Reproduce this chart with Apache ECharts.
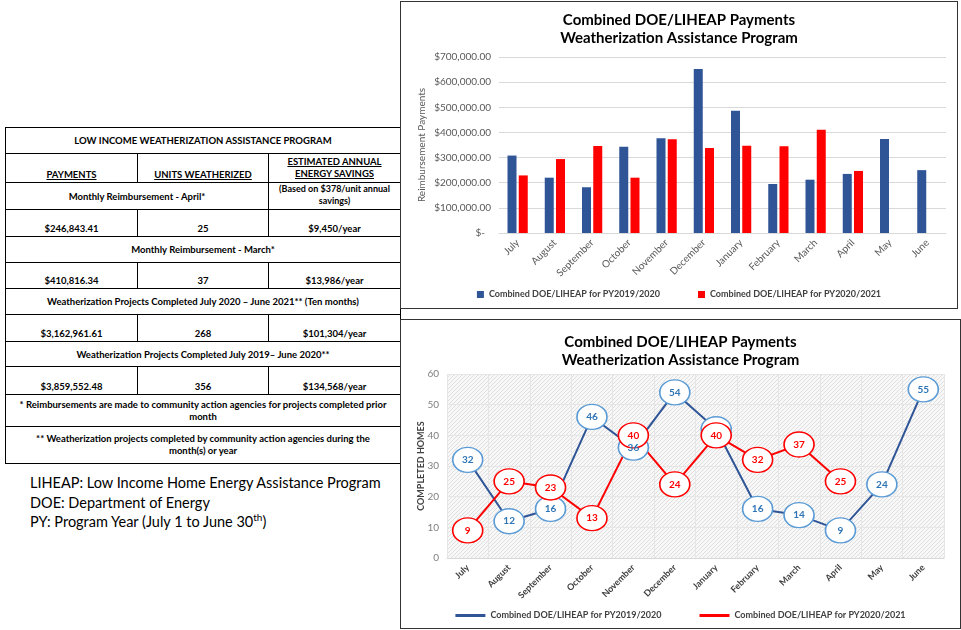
<!DOCTYPE html>
<html><head><meta charset="utf-8">
<script src="https://cdn.jsdelivr.net/npm/echarts@6/dist/echarts.min.js"></script>
<style>
body{margin:0;background:#fff;width:961px;height:630px;position:relative;overflow:hidden;font-family:Lato,'Open Sans',sans-serif;}
#tbl{position:absolute;left:5px;top:127px;border-collapse:collapse;table-layout:fixed;width:395px;font-weight:bold;font-size:9.5px;color:#000;}
#tbl td{border:1px solid #000;text-align:center;padding:0 2px;overflow:hidden;white-space:nowrap;}
#tbl td.b{vertical-align:bottom;padding-bottom:2px;}
#tbl u{text-decoration:underline;}
#notes{position:absolute;left:30px;top:473px;font-size:14.5px;line-height:19.5px;color:#000;}
#c1{position:absolute;left:400px;top:1px;width:558px;height:308px;border:1px solid #333;box-sizing:border-box;}
#c2{position:absolute;left:400px;top:319px;width:561px;height:310px;border:1px solid #333;box-sizing:border-box;}
</style></head><body>
<table id="tbl">
<colgroup><col style="width:132px"><col style="width:131px"><col style="width:132px"></colgroup>
<tr style="height:26px"><td colspan="3">LOW INCOME WEATHERIZATION ASSISTANCE PROGRAM</td></tr>
<tr style="height:29px"><td class="b"><u>PAYMENTS</u></td><td class="b"><u>UNITS WEATHERIZED</u></td><td class="b" style="line-height:12px"><u>ESTIMATED ANNUAL</u><br><u>ENERGY SAVINGS</u></td></tr>
<tr style="height:27px"><td colspan="2">Monthly Reimbursement - April*</td><td style="font-size:9px;line-height:12px;vertical-align:top">(Based on $378/unit annual<br>savings)</td></tr>
<tr style="height:27px"><td class="b">$246,843.41</td><td class="b">25</td><td class="b">$9,450/year</td></tr>
<tr style="height:26px"><td colspan="3" style="border-top:1px solid #8db3e2">Monthly Reimbursement - March*</td></tr>
<tr style="height:26px"><td class="b">$410,816.34</td><td class="b">37</td><td class="b">$13,986/year</td></tr>
<tr style="height:26px"><td colspan="3">Weatherization Projects Completed July 2020 – June 2021** (Ten months)</td></tr>
<tr style="height:27px"><td class="b">$3,162,961.61</td><td class="b">268</td><td class="b">$101,304/year</td></tr>
<tr style="height:25px"><td colspan="3">Weatherization Projects Completed July 2019– June 2020**</td></tr>
<tr style="height:28px"><td class="b">$3,859,552.48</td><td class="b">356</td><td class="b">$134,568/year</td></tr>
<tr style="height:32px"><td colspan="3" style="line-height:12px">* Reimbursements are made to community action agencies for projects completed prior<br>month</td></tr>
<tr style="height:37px"><td colspan="3" style="line-height:12px">** Weatherization projects completed by community action agencies during the<br>month(s) or year</td></tr>
</table>
<div id="notes">LIHEAP: Low Income Home Energy Assistance Program<br>DOE: Department of Energy<br>PY: Program Year (July 1 to June 30<sup style="font-size:10px;line-height:0">th</sup>)</div>
<div id="c1"></div>
<div id="c2"></div>
<script>
var months = ['July','August','September','October','November','December','January','February','March','April','May','June'];
var payments1920 = [308000,220000,182000,343000,377000,652000,486000,195000,212000,235000,374000,250000];
var payments2021 = [229000,294000,346000,220000,373000,338000,347000,345000,410816,246843,null,null];
var homes1920 = [32,12,16,46,36,54,42,16,14,9,24,55];
var homes2021 = [9,25,23,13,40,24,40,32,37,25,null,null];
var yTicksPay = [0,100000,200000,300000,400000,500000,600000,700000];
var name1920 = 'Combined DOE/LIHEAP for PY2019/2020';
var name2021 = 'Combined DOE/LIHEAP for PY2020/2021';
var FONT = 'Lato, "Open Sans", sans-serif';
var BLUE = '#2f5597', RED = '#ff0000';
var titleText = 'Combined DOE/LIHEAP Payments\nWeatherization Assistance Program';

function fmtMoney(v){
  if(v===0) return '{z|$-}';
  return '$' + v.toLocaleString('en-US',{minimumFractionDigits:2,maximumFractionDigits:2});
}

var ch1 = echarts.init(document.getElementById('c1'));
ch1.setOption({
  animation:false,
  textStyle:{fontFamily:FONT},
  title:{text:titleText,left:'center',top:4,textStyle:{fontSize:15,fontWeight:'bold',color:'#000',lineHeight:18,fontFamily:FONT}},
  legend:{top:283,left:'center',itemWidth:7,itemHeight:7,itemGap:38,icon:'rect',
    textStyle:{fontSize:9,fontWeight:'bold',color:'#404040',fontFamily:FONT},
    data:[name1920,name2021]},
  grid:{left:98,right:11,top:55,bottom:75},
  xAxis:{type:'category',data:months,axisTick:{show:false},axisLine:{lineStyle:{color:'#d9d9d9'}},
    axisLabel:{rotate:45,fontSize:10,color:'#595959',margin:8,interval:0,fontFamily:FONT}},
  yAxis:{type:'value',min:yTicksPay[0],max:yTicksPay[yTicksPay.length-1],interval:100000,
    name:'Reimbursement Payments',nameLocation:'middle',nameGap:72,nameRotate:90,nameMoveOverlap:false,
    nameTextStyle:{fontSize:10,color:'#595959',fontFamily:FONT},
    axisLabel:{fontSize:10,color:'#595959',formatter:fmtMoney,fontFamily:FONT,rich:{z:{fontSize:10,color:'#595959',padding:[0,6,0,0],fontFamily:FONT}}},
    splitLine:{lineStyle:{color:'#d9d9d9'}}},
  series:[
    {name:name1920,type:'bar',data:payments1920,barWidth:9,barGap:'25%',itemStyle:{color:BLUE}},
    {name:name2021,type:'bar',data:payments2021,barWidth:9,itemStyle:{color:RED}}
  ]
});

var cv = document.createElement('canvas');
cv.width = 4; cv.height = 4;
var cx = cv.getContext('2d');
cx.fillStyle = '#f8f8f8'; cx.fillRect(0,0,4,4);
cx.strokeStyle = '#dedede'; cx.lineWidth = 1;
cx.beginPath(); cx.moveTo(0,4); cx.lineTo(4,0); cx.stroke();
cx.beginPath(); cx.moveTo(-1,1); cx.lineTo(1,-1); cx.stroke();
cx.beginPath(); cx.moveTo(3,5); cx.lineTo(5,3); cx.stroke();

// hide a blue label where the red marker sits on top of it
var blueData = homes1920.map(function(v,i){
  var o = homes2021[i];
  if(o!=null && Math.abs(o-v)<=3) return {value:v,label:{show:false}};
  return v;
});

var ch2 = echarts.init(document.getElementById('c2'));
ch2.setOption({
  animation:false,
  textStyle:{fontFamily:FONT},
  title:{text:titleText,left:'center',top:8,textStyle:{fontSize:15,fontWeight:'bold',color:'#000',lineHeight:18,fontFamily:FONT}},
  legend:{top:286,left:'center',itemWidth:30,itemHeight:3,itemGap:38,icon:'rect',
    textStyle:{fontSize:9,fontWeight:'bold',color:'#404040',fontFamily:FONT},
    data:[{name:name1920,itemStyle:{color:BLUE,borderWidth:0}},{name:name2021,itemStyle:{color:RED,borderWidth:0}}]},
  grid:{left:46,right:16,top:54,bottom:70,show:true,borderWidth:0,backgroundColor:{image:cv,repeat:'repeat'}},
  xAxis:{type:'category',data:months,axisTick:{show:false},axisLine:{lineStyle:{color:'#d9d9d9'}},
    splitLine:{show:true,interval:0,lineStyle:{color:'#e6e6e6'}},
    axisLabel:{rotate:45,fontSize:9,fontWeight:'bold',color:'#404040',margin:8,interval:0,fontFamily:FONT}},
  yAxis:{type:'value',min:0,max:60,interval:10,
    name:'COMPLETED HOMES',nameLocation:'middle',nameGap:21,nameRotate:90,nameMoveOverlap:false,
    nameTextStyle:{fontSize:9,fontWeight:'bold',color:'#404040',fontFamily:FONT},
    axisLabel:{fontSize:10,color:'#7f7f7f',fontFamily:FONT},
    splitLine:{lineStyle:{color:'#e6e6e6'}}},
  series:[
    {name:name1920,type:'line',data:blueData,symbol:'circle',symbolSize:[30,25],showAllSymbol:true,
      lineStyle:{color:BLUE,width:2},itemStyle:{color:'#fff',borderColor:'#5b9bd5',borderWidth:1.5},
      label:{show:true,position:'inside',fontSize:10,fontWeight:'bold',color:'#2e75b6',fontFamily:FONT}},
    {name:name2021,type:'line',data:homes2021,symbol:'circle',symbolSize:[30,25],showAllSymbol:true,
      lineStyle:{color:RED,width:2},itemStyle:{color:'#fff',borderColor:RED,borderWidth:1.5},
      label:{show:true,position:'inside',fontSize:10,fontWeight:'bold',color:RED,fontFamily:FONT}}
  ]
});
</script>
</body></html>
